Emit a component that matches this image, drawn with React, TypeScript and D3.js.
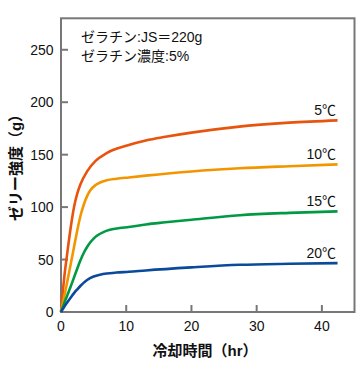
import React from "react";
import * as d3 from "d3";

const xTicks = [0, 10, 20, 30, 40];
const yTicks = [0, 50, 100, 150, 200, 250];

const seriesNames = ["5℃", "10℃", "15℃", "20℃"];
const seriesColors = ["#e8540e", "#f29600", "#009a44", "#0b4a9b"];

const hours5 = [0, 0.5, 1.0, 1.5, 2.0, 2.5, 3.0, 4.0, 5.3, 7.0, 10, 13, 16, 20, 27, 35, 42.4];
const vals5 = [0, 33, 58, 81, 100, 113, 122, 134, 144, 151.5, 158.5, 163.5, 167, 171, 176.5, 180.5, 182.7];

const hours10 = [0, 0.5, 1.0, 1.5, 2.0, 2.5, 3.0, 3.5, 4.0, 4.5, 5.3, 6.0, 7.0, 8.5, 10.4, 13, 20, 27.4, 35, 42.4];
const vals10 = [0, 15, 30, 46, 62, 78, 92, 102.5, 110.5, 116, 121, 123.5, 125.5, 127, 128.3, 130, 134, 137, 139, 140.7];

const hours15 = [0, 0.5, 1.0, 1.5, 2.0, 2.5, 3.0, 3.5, 4.0, 4.5, 5.0, 5.5, 6.5, 7.5, 9, 10.4, 13, 16, 20, 27.4, 35, 42.4];
const vals15 = [0, 8.5, 16.5, 24.5, 33, 41.5, 49.5, 56.5, 62, 66.5, 70, 72.7, 76.2, 78.3, 80, 81, 83.5, 85.5, 88, 92.3, 94.5, 95.9];

const hours20 = [0, 0.5, 1.0, 1.5, 2.0, 2.5, 3.0, 3.5, 4.0, 5.0, 6.0, 7.0, 8.5, 10.4, 13, 20, 27.4, 35, 42.4];
const vals20 = [0, 5, 9.5, 13.8, 18, 21.6, 25, 28, 30.5, 33.8, 35.6, 36.7, 37.6, 38.3, 39.6, 42.5, 45, 46, 46.6];

const noteLines = ["ゼラチン:JS＝220g", "ゼラチン濃度:5%"];
const xLabel = "冷却時間（hr）";
const yLabel = "ゼリー強度（g）";

const FONT = "'Liberation Sans', Arial, 'Noto Sans CJK JP', sans-serif";

export default function App() {
  const W = 360;
  const H = 365;
  const x = d3.scaleLinear().domain([0, 45]).range([61, 354.5]);
  const y = d3.scaleLinear().domain([0, 280]).range([312, 18.3]);

  const series = [
    { h: hours5, v: vals5 },
    { h: hours10, v: vals10 },
    { h: hours15, v: vals15 },
    { h: hours20, v: vals20 },
  ];

  const line = d3
    .line<[number, number]>()
    .x((d) => x(d[0]))
    .y((d) => y(d[1]))
    .curve(d3.curveMonotoneX);

  const axisColor = "#777";

  return (
    <svg
      width={W}
      height={H}
      style={{ position: "absolute", left: 0, top: 0, background: "#fff" }}
      fontFamily={FONT}
    >
      <rect
        x={x(0)}
        y={y(280)}
        width={x(45) - x(0)}
        height={y(0) - y(280)}
        fill="#fff"
        stroke={axisColor}
        strokeWidth={2}
      />
      {yTicks.map((t) => (
        <g key={"y" + t}>
          <line x1={x(0)} x2={x(0) + 7} y1={y(t)} y2={y(t)} stroke={axisColor} strokeWidth={2} />
          <text x={53.5} y={y(t)} dy="0.36em" textAnchor="end" fontSize={14} fill="#111">
            {t}
          </text>
        </g>
      ))}
      {xTicks.map((t) => (
        <g key={"x" + t}>
          <line x1={x(t)} x2={x(t)} y1={y(0)} y2={y(0) - 7} stroke={axisColor} strokeWidth={2} />
          <text x={x(t)} y={331} textAnchor="middle" fontSize={14} fill="#111">
            {t}
          </text>
        </g>
      ))}
      {series.map((s, i) => {
        const pts: [number, number][] = s.h.map((h, j) => [h, s.v[j]]);
        return (
          <path
            key={"s" + i}
            d={line(pts) || ""}
            fill="none"
            stroke={seriesColors[i]}
            strokeWidth={2.6}
          />
        );
      })}
      {series.map((s, i) => {
        const last = s.v[s.v.length - 1];
        return (
          <text
            key={"l" + i}
            x={336}
            y={y(last) - 5}
            textAnchor="end"
            fontSize={14}
            fill="#111"
          >
            {seriesNames[i]}
          </text>
        );
      })}
      {noteLines.map((t, i) => (
        <text key={"n" + i} x={81} y={41.5 + i * 19.5} fontSize={14} fill="#111">
          {t}
        </text>
      ))}
      <text x={205} y={356} textAnchor="middle" fontSize={15} fill="#111" fontWeight={600}>
        {xLabel}
      </text>
      <text
        transform={`translate(21,164) rotate(-90)`}
        textAnchor="middle"
        fontSize={15}
        fill="#111"
        fontWeight={600}
      >
        {yLabel}
      </text>
    </svg>
  );
}
